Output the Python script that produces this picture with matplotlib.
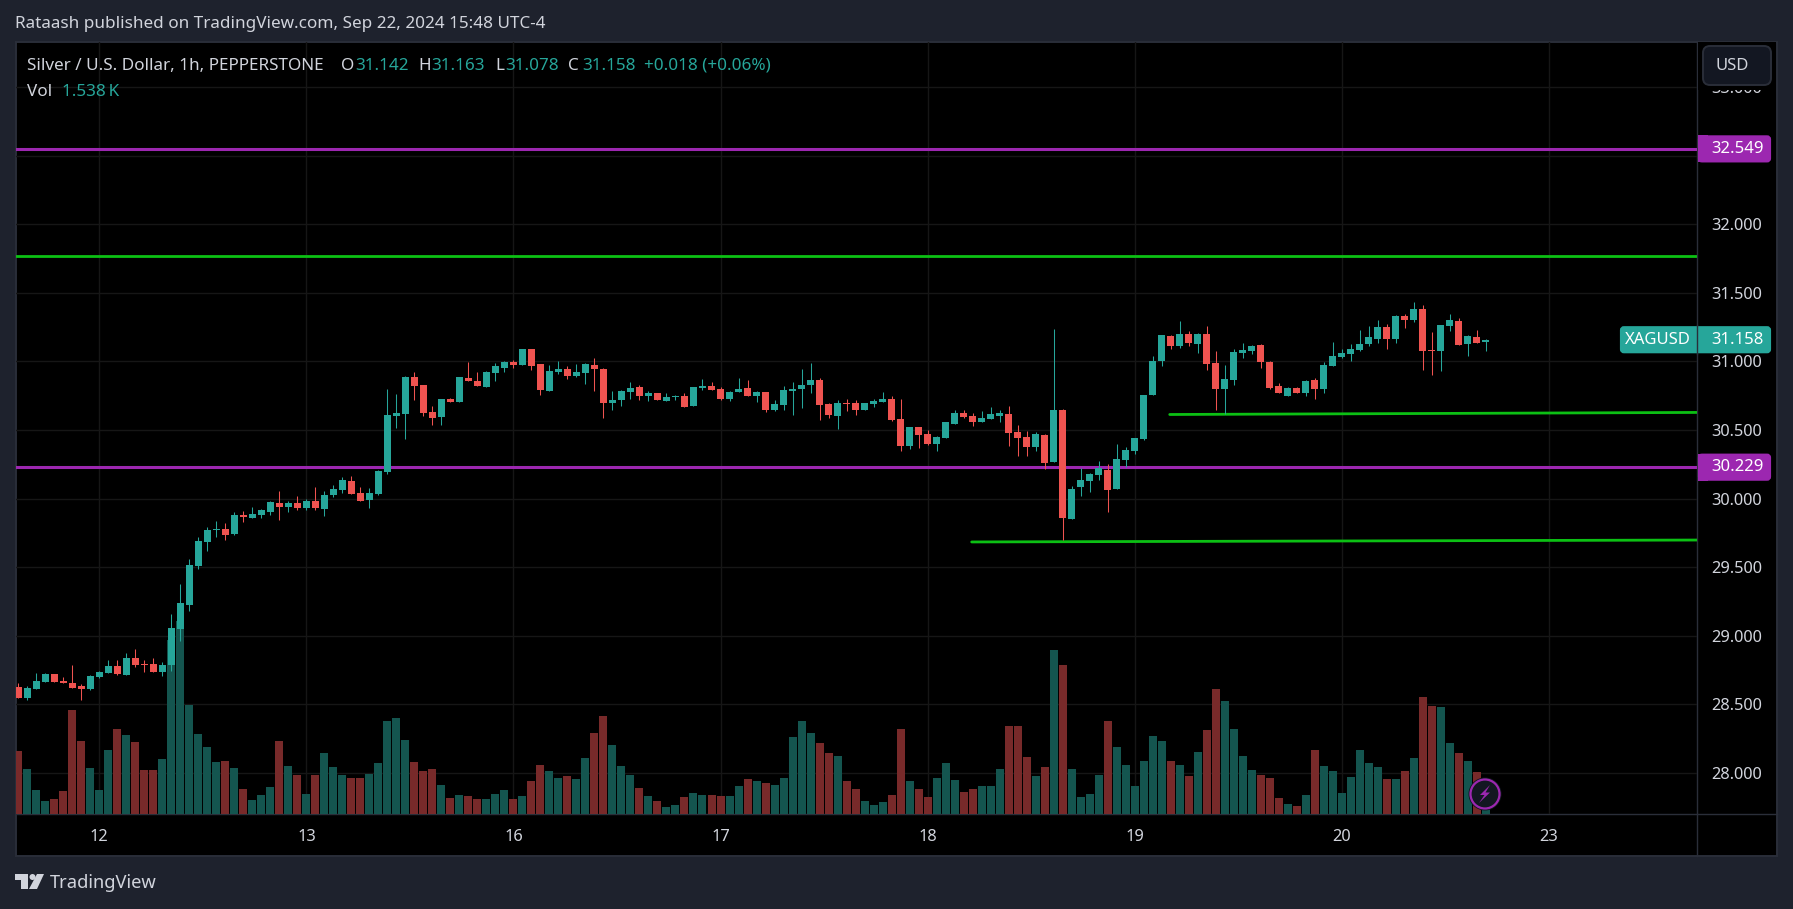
import matplotlib
matplotlib.use("Agg")
import matplotlib.pyplot as plt
from matplotlib.patches import Circle, FancyBboxPatch, Polygon, Rectangle
import numpy as np

# --- Data (XAGUSD 1h) ---
opens = [
    28.626, 28.546, 28.612, 28.663, 28.721, 28.670, 28.655, 28.634, 28.612, 28.699,
    28.728, 28.779, 28.714, 28.838, 28.794, 28.794, 28.736, 28.787, 29.049, 29.224,
    29.508, 29.683, 29.771, 29.778, 29.742, 29.880, 29.858, 29.880, 29.902, 29.968,
    29.938, 29.968, 29.931, 29.982, 29.924, 30.026, 30.062, 30.128, 30.041, 29.989,
    30.033, 30.194, 30.602, 30.617, 30.886, 30.828, 30.631, 30.595, 30.726, 30.704,
    30.879, 30.857, 30.813, 30.916, 30.952, 30.996, 30.974, 31.090, 30.981, 30.784,
    30.923, 30.945, 30.894, 30.916, 30.974, 30.945, 30.697, 30.719, 30.777, 30.813,
    30.748, 30.770, 30.711, 30.741, 30.748, 30.675, 30.806, 30.821, 30.799, 30.726,
    30.777, 30.806, 30.748, 30.777, 30.646, 30.682, 30.784, 30.799, 30.828, 30.864,
    30.690, 30.602, 30.697, 30.697, 30.646, 30.690, 30.704, 30.726, 30.580, 30.383,
    30.522, 30.471, 30.398, 30.442, 30.544, 30.624, 30.602, 30.558, 30.580, 30.602,
    30.617, 30.485, 30.449, 30.376, 30.464, 30.267, 30.646, 29.851, 30.084, 30.128,
    30.172, 30.208, 30.070, 30.281, 30.347, 30.434, 30.755, 31.003, 31.185, 31.112,
    31.199, 31.126, 31.199, 30.988, 30.798, 30.864, 31.061, 31.075, 31.119, 30.995,
    30.820, 30.747, 30.806, 30.769, 30.864, 30.798, 30.966, 31.032, 31.053, 31.083,
    31.126, 31.163, 31.250, 31.163, 31.330, 31.301, 31.381, 31.083, 31.075, 31.258,
    31.294, 31.126, 31.177, 31.142,
]
highs = [
    28.655, 28.634, 28.728, 28.728, 28.721, 28.699, 28.787, 28.648, 28.714, 28.743,
    28.823, 28.823, 28.874, 28.903, 28.823, 28.838, 28.809, 29.158, 29.377, 29.559,
    29.720, 29.793, 29.836, 29.822, 29.902, 29.909, 29.938, 29.924, 29.982, 30.055,
    29.982, 30.019, 29.997, 30.084, 30.055, 30.099, 30.157, 30.164, 30.084, 30.077,
    30.208, 30.799, 30.762, 30.894, 30.923, 30.828, 30.675, 30.726, 30.733, 30.886,
    30.996, 30.923, 30.930, 30.988, 31.003, 31.010, 31.090, 31.090, 30.981, 30.974,
    31.003, 30.967, 30.981, 30.988, 31.025, 30.952, 30.784, 30.792, 30.850, 30.828,
    30.784, 30.770, 30.770, 30.755, 30.770, 30.813, 30.872, 30.850, 30.813, 30.784,
    30.879, 30.864, 30.784, 30.777, 30.719, 30.821, 30.850, 30.945, 30.988, 30.879,
    30.697, 30.719, 30.726, 30.719, 30.697, 30.726, 30.777, 30.748, 30.726, 30.522,
    30.522, 30.500, 30.456, 30.558, 30.646, 30.646, 30.624, 30.639, 30.668, 30.646,
    30.675, 30.536, 30.493, 30.485, 30.471, 31.236, 30.653, 30.092, 30.223, 30.187,
    30.274, 30.252, 30.398, 30.376, 30.442, 30.755, 31.039, 31.193, 31.193, 31.294,
    31.221, 31.207, 31.258, 31.075, 30.973, 31.090, 31.134, 31.119, 31.126, 31.002,
    30.842, 30.813, 30.813, 30.864, 30.878, 30.995, 31.141, 31.090, 31.126, 31.228,
    31.258, 31.301, 31.272, 31.338, 31.345, 31.433, 31.411, 31.214, 31.265, 31.345,
    31.316, 31.192, 31.228, 31.163,
]
lows = [
    28.546, 28.531, 28.612, 28.663, 28.663, 28.655, 28.619, 28.531, 28.604, 28.692,
    28.728, 28.714, 28.714, 28.772, 28.736, 28.736, 28.706, 28.743, 28.962, 29.180,
    29.486, 29.618, 29.720, 29.698, 29.734, 29.829, 29.858, 29.858, 29.880, 29.844,
    29.902, 29.917, 29.917, 29.917, 29.873, 30.011, 30.041, 30.033, 29.982, 29.931,
    30.026, 30.179, 30.515, 30.434, 30.719, 30.602, 30.536, 30.536, 30.704, 30.704,
    30.857, 30.821, 30.813, 30.857, 30.923, 30.952, 30.974, 30.937, 30.755, 30.784,
    30.908, 30.872, 30.886, 30.835, 30.784, 30.587, 30.646, 30.675, 30.726, 30.719,
    30.711, 30.719, 30.711, 30.719, 30.668, 30.675, 30.792, 30.792, 30.719, 30.711,
    30.777, 30.748, 30.704, 30.631, 30.639, 30.646, 30.609, 30.660, 30.770, 30.573,
    30.587, 30.507, 30.639, 30.609, 30.646, 30.668, 30.704, 30.566, 30.347, 30.361,
    30.369, 30.391, 30.347, 30.442, 30.544, 30.587, 30.529, 30.558, 30.580, 30.558,
    30.383, 30.310, 30.310, 30.347, 30.216, 30.267, 29.698, 29.851, 30.019, 30.048,
    30.135, 29.902, 30.070, 30.230, 30.325, 30.427, 30.755, 30.967, 31.090, 31.097,
    31.112, 31.061, 30.937, 30.645, 30.616, 30.827, 31.024, 31.053, 30.951, 30.798,
    30.769, 30.747, 30.769, 30.747, 30.725, 30.769, 30.966, 31.024, 31.002, 31.075,
    31.112, 31.134, 31.090, 31.134, 31.243, 31.287, 30.937, 30.900, 30.930, 31.221,
    31.119, 31.039, 31.134, 31.078,
]
closes = [
    28.546, 28.619, 28.670, 28.721, 28.663, 28.655, 28.619, 28.612, 28.706, 28.736,
    28.779, 28.721, 28.838, 28.787, 28.787, 28.736, 28.787, 29.056, 29.239, 29.516,
    29.691, 29.771, 29.778, 29.734, 29.880, 29.866, 29.887, 29.917, 29.975, 29.938,
    29.968, 29.931, 29.982, 29.931, 30.026, 30.070, 30.135, 30.033, 29.982, 30.041,
    30.201, 30.609, 30.624, 30.886, 30.821, 30.624, 30.587, 30.726, 30.704, 30.886,
    30.857, 30.821, 30.923, 30.967, 30.996, 30.974, 31.090, 30.967, 30.792, 30.930,
    30.945, 30.894, 30.923, 30.981, 30.945, 30.697, 30.719, 30.784, 30.806, 30.748,
    30.770, 30.719, 30.741, 30.748, 30.668, 30.813, 30.821, 30.792, 30.726, 30.777,
    30.799, 30.748, 30.777, 30.646, 30.690, 30.792, 30.799, 30.828, 30.864, 30.682,
    30.609, 30.697, 30.690, 30.646, 30.697, 30.711, 30.726, 30.573, 30.383, 30.522,
    30.464, 30.398, 30.449, 30.558, 30.624, 30.595, 30.558, 30.587, 30.617, 30.624,
    30.478, 30.442, 30.376, 30.471, 30.259, 30.646, 29.858, 30.070, 30.135, 30.179,
    30.223, 30.063, 30.289, 30.354, 30.442, 30.755, 31.003, 31.193, 31.112, 31.199,
    31.134, 31.199, 30.981, 30.798, 30.871, 31.068, 31.083, 31.112, 30.995, 30.806,
    30.769, 30.806, 30.769, 30.857, 30.798, 30.973, 31.039, 31.061, 31.090, 31.126,
    31.177, 31.250, 31.163, 31.330, 31.301, 31.381, 31.075, 31.075, 31.265, 31.301,
    31.119, 31.185, 31.134, 31.158,
]
volumes = [
    18.9, 13.5, 7.2, 3.9, 4.5, 6.9, 31.2, 21.9, 13.8, 7.2,
    19.2, 25.5, 23.7, 21.6, 13.2, 13.2, 16.5, 52.2, 57.9, 32.7,
    24.0, 20.1, 15.6, 15.9, 13.8, 7.5, 4.2, 5.7, 8.1, 21.9,
    14.4, 11.7, 6.0, 11.7, 18.3, 14.1, 11.7, 10.8, 10.8, 12.0,
    15.3, 27.9, 28.8, 22.2, 15.6, 12.9, 13.5, 8.7, 4.8, 5.7,
    5.4, 4.5, 4.5, 6.0, 7.2, 4.5, 5.4, 9.9, 14.7, 12.9,
    10.8, 11.4, 10.5, 16.8, 24.3, 29.4, 20.7, 14.4, 11.7, 7.8,
    5.4, 3.9, 2.1, 2.7, 5.1, 6.3, 5.7, 5.7, 5.4, 5.4,
    8.4, 10.5, 9.9, 9.3, 8.7, 10.8, 23.1, 27.9, 24.3, 21.3,
    18.3, 17.4, 9.9, 7.5, 3.9, 2.7, 3.6, 5.7, 25.5, 9.9,
    7.5, 5.1, 10.8, 15.3, 10.2, 6.6, 7.5, 8.4, 8.4, 13.5,
    26.4, 26.4, 17.1, 11.4, 14.1, 49.2, 44.7, 13.5, 5.1, 6.0,
    11.7, 27.9, 20.1, 14.7, 8.4, 15.9, 23.4, 21.9, 15.9, 14.7,
    11.4, 18.6, 25.2, 37.5, 33.9, 25.5, 17.4, 13.2, 11.7, 10.8,
    4.8, 3.0, 2.4, 5.7, 19.2, 14.4, 12.9, 6.3, 11.1, 19.2,
    15.3, 14.1, 10.5, 10.5, 12.9, 16.8, 35.1, 32.4, 32.1, 21.3,
    18.3, 15.9, 12.6, 1.538,
]
day_bars = [9, 32, 55, 78, 101, 124, 147, 170]
day_labels = ["12", "13", "16", "17", "18", "19", "20", "23"]
price_ticks = [28.0, 28.5, 29.0, 29.5, 30.0, 30.5, 31.0, 31.5, 32.0, 32.5, 33.0]
purple_levels = [32.549, 30.229]
green_level = 31.768
trend_bars = [(127.9, 186.5), (105.9, 186.5)]
trend_prices = [(30.613, 30.628), (29.684, 29.698)]

# --- Style ---
W, H = 1793, 909
BG = "#1e222d"
BORDER = "#2a2e39"
GRID = "#161616"
TEXT = "#d1d4dc"
UP = "#26a69a"
DOWN = "#ef5350"
UP_VOL = "#14554f"
DOWN_VOL = "#782a2a"
PURPLE = "#9c27b0"
GREEN = "#0cc014"
PANEL_DARK = "#131722"
FONT = ["Noto Sans", "DejaVu Sans"]
VOL_TOP = 231.9
HEAD_SIZE = 12.3

plt.rcParams["font.family"] = FONT

# plot area in pixels
LEFT, RIGHT, TOP, BOTTOM = 15.5, 1697, 41.5, 814
PANEL_R, PANEL_B = 1777, 856
BAR_X0, BAR_DX = 18.3, 9.0026
PRICE_PX = 137.2  # px per 1.0 on the price scale


def px2bar(x):
    return (x - BAR_X0) / BAR_DX


def px2price(y):
    return 28 + (773 - y) / PRICE_PX


def price_y(p):
    return 773 - (p - 28) * PRICE_PX


fig = plt.figure(figsize=(W / 100, H / 100), dpi=100, facecolor=BG)

# full-figure overlay in pixel coords, for the frame, tags and header
over = fig.add_axes([0, 0, 1, 1], zorder=5)
over.set_xlim(0, W)
over.set_ylim(H, 0)
over.axis("off")

back = fig.add_axes([0, 0, 1, 1], zorder=0)
back.set_xlim(0, W)
back.set_ylim(H, 0)
back.axis("off")
back.add_patch(Rectangle((LEFT, TOP), PANEL_R - LEFT, PANEL_B - TOP, fc="black", ec=BORDER, lw=1.4))
back.plot([RIGHT, RIGHT], [TOP, PANEL_B], color=BORDER, lw=1)
back.plot([LEFT, PANEL_R], [BOTTOM, BOTTOM], color=BORDER, lw=1)

ax = fig.add_axes([LEFT / W, 1 - BOTTOM / H, (RIGHT - LEFT) / W, (BOTTOM - TOP) / H], zorder=2)
ax.patch.set_visible(False)
for s in ax.spines.values():
    s.set_visible(False)

x = np.arange(len(opens))
o = np.array(opens)
c = np.array(closes)
is_up = c >= o

# volume sits at the bottom of the same pane, height as share of the pane
vol_trans = ax.get_xaxis_transform()
ax.bar(x, np.array(volumes) / VOL_TOP, width=8 / BAR_DX, bottom=0, transform=vol_trans,
       color=[UP_VOL if u else DOWN_VOL for u in is_up], zorder=1)

# levels and trend lines
for lvl in purple_levels:
    ax.axhline(lvl, color=PURPLE, lw=2.2, zorder=2)
ax.axhline(green_level, color=GREEN, lw=2.0, zorder=2)
for bars, prices in zip(trend_bars, trend_prices):
    ax.plot(bars, prices, color=GREEN, lw=2.0, zorder=2, solid_capstyle="round")

# candles
colors = [UP if u else DOWN for u in is_up]
ax.vlines(x, lows, highs, colors=colors, lw=0.75, zorder=3)
ax.bar(x, np.maximum(np.abs(c - o), 0.007), width=7 / BAR_DX, bottom=np.minimum(o, c),
       color=colors, zorder=4)

ax.set_xlim(px2bar(LEFT), px2bar(RIGHT))
ax.set_ylim(px2price(BOTTOM), px2price(TOP))
ax.set_xticks(day_bars)
ax.set_xticklabels(day_labels, fontsize=11.8, color=TEXT)
ax.set_yticks(price_ticks)
# 32.500 sits under the 32.549 tag, so it keeps its gridline but shows no label
ax.set_yticklabels(["" if p == 32.5 else f"{p:.3f}" for p in price_ticks], fontsize=11.8, color=TEXT)
ax.yaxis.tick_right()
ax.tick_params(axis="both", length=0)
ax.tick_params(axis="x", pad=11)
ax.tick_params(axis="y", pad=10.5)
ax.grid(True, color=GRID, lw=1)
ax.set_axisbelow(True)

# --- Header ---
over.text(15, 24.5, "Rataash published on TradingView.com, Sep 22, 2024 15:48 UTC-4",
          color=TEXT, fontsize=HEAD_SIZE, va="center")
over.text(27, 65.5, "Silver / U.S. Dollar, 1h, PEPPERSTONE", color=TEXT, fontsize=HEAD_SIZE, va="center")
for xp, s, col in [(341, "O", TEXT), (355, "31.142", UP), (418, "H", TEXT), (431, "31.163", UP),
                   (495, "L", TEXT), (505, "31.078", UP), (568, "C", TEXT), (582, "31.158", UP),
                   (644, "+0.018 (+0.06%)", UP)]:
    over.text(xp, 65.5, s, color=col, fontsize=HEAD_SIZE, va="center")
over.text(27, 91.5, "Vol", color=TEXT, fontsize=HEAD_SIZE, va="center")
over.text(62, 91.5, "1.538\u2009K", color=UP, fontsize=HEAD_SIZE, va="center")


# --- Price scale tags ---
def tag(x0, x1, yc, color, label, xt, square_left=True):
    over.add_patch(FancyBboxPatch((x0 + 2, yc - 11.5), x1 - x0 - 4, 23,
                                  boxstyle="round,pad=0,rounding_size=2", fc=color, ec=color, lw=3))
    if square_left:
        over.add_patch(Rectangle((x0, yc - 13.5), 10, 27, fc=color, ec="none"))
    over.text(xt, yc, label, color="white", fontsize=12, va="center", ha="center", fontweight="bold")


tag(1698, 1771, price_y(purple_levels[0]), PURPLE, f"{purple_levels[0]:.3f}", 1738)
tag(1698, 1771, price_y(purple_levels[1]), PURPLE, f"{purple_levels[1]:.3f}", 1738)
tag(1620, 1771, price_y(closes[-1]), UP, f"{closes[-1]:.3f}", 1738, square_left=False)
over.text(1658, price_y(closes[-1]), "XAGUSD", color="white", fontsize=12, va="center", ha="center")
over.plot([1697, 1697], [325, 354], color=BORDER, lw=1)

# USD button, with the black gap under it that hides most of the 33.000 label
over.add_patch(Rectangle((1698, 42), 78, 48, fc="black", ec="none"))
over.add_patch(FancyBboxPatch((1706, 49), 62, 33, boxstyle="round,pad=3,rounding_size=7",
                              fc=PANEL_DARK, ec=BORDER, lw=1.4))
over.text(1732, 66, "USD", color=TEXT, fontsize=12, va="center", ha="center")

# lightning button over the last bar
over.add_patch(Circle((1485, 794), 16.5, fc=PANEL_DARK, ec="none"))
over.add_patch(Circle((1485, 794), 14.5, fc=PANEL_DARK, ec=PURPLE, lw=1.6))
over.add_patch(Polygon([(1490, 785), (1480, 795), (1484.5, 795), (1479, 803), (1490, 792.5), (1485.5, 792.5)],
                       closed=True, fc=PURPLE, ec="none"))

# --- TradingView logo ---
LOGO = "#d1d4dc"
over.add_patch(Polygon([(15, 874), (28, 874), (28, 889), (21, 889), (21, 880), (15, 880)], closed=True, fc=LOGO, ec="none"))
over.add_patch(Circle((32.5, 877), 3, fc=LOGO, ec="none"))
over.add_patch(Polygon([(37, 874), (44, 874), (37, 889), (29, 889)], closed=True, fc=LOGO, ec="none"))
over.text(50, 883, "TradingView", color=LOGO, fontsize=13.2, va="center", fontweight="medium")

fig.savefig("out.png", dpi=100, facecolor=BG)
